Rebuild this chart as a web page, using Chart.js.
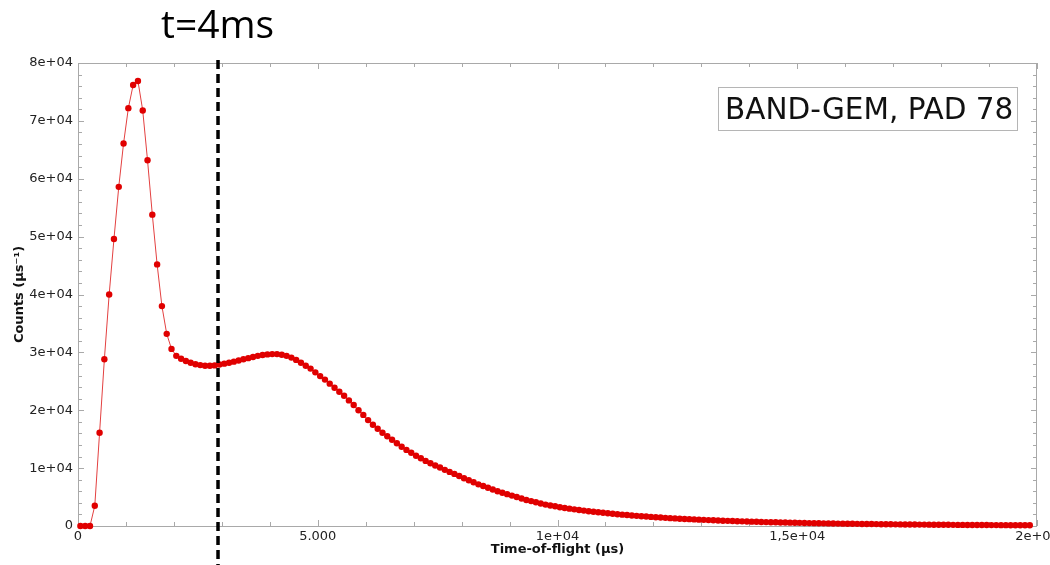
<!DOCTYPE html>
<html>
<head>
<meta charset="utf-8">
<script src="https://cdn.jsdelivr.net/npm/chart.js@4.4.1/dist/chart.umd.min.js"></script>
<style>
  html, body { margin: 0; padding: 0; background: #ffffff; }
  canvas { display: block; }
</style>
</head>
<body>
<canvas id="tof" width="1050" height="565"></canvas>
<script>
// Time-of-flight histogram, 100 µs bins (first bin centre at 50 µs)
const binStart = 50;
const binWidth = 100;
const counts = [
  0, 0, 0, 3500, 16100, 28800, 40000, 49600, 58600, 66100,
  72200, 76200, 76900, 71800, 63200, 53800, 45200, 38000, 33200, 30600,
  29400, 28900, 28500, 28200, 27950, 27800, 27700, 27700, 27750, 27900,
  28050, 28200, 28400, 28600, 28800, 29000, 29200, 29400, 29550, 29650,
  29700, 29700, 29600, 29400, 29100, 28700, 28200, 27700, 27200, 26550,
  25900, 25300, 24600, 23900, 23200, 22500, 21700, 20900, 20000, 19200,
  18300, 17500, 16800, 16100, 15500, 14900, 14300, 13700, 13150, 12650,
  12150, 11700, 11250, 10850, 10450, 10100, 9700, 9350, 9000, 8650,
  8250, 7900, 7550, 7200, 6900, 6600, 6300, 6000, 5750, 5500,
  5250, 5000, 4750, 4500, 4300, 4100, 3900, 3700, 3550, 3400,
  3250, 3120, 3000, 2880, 2770, 2660, 2560, 2460, 2370, 2280,
  2200, 2120, 2040, 1960, 1890, 1820, 1750, 1690, 1630, 1570,
  1510, 1460, 1410, 1360, 1310, 1260, 1220, 1180, 1140, 1100,
  1060, 1020, 990, 955, 920, 890, 860, 830, 800, 775,
  750, 725, 700, 675, 655, 635, 615, 595, 575, 555,
  540, 520, 505, 490, 475, 460, 445, 430, 418, 405,
  392, 380, 368, 357, 346, 335, 325, 315, 305, 296,
  287, 278, 270, 262, 254, 246, 239, 232, 225, 218,
  212, 206, 200, 194, 188, 183, 178, 173, 168, 163,
  158, 154, 150, 146, 142, 138, 134, 130, 126
];

const xTickValues = [0, 5000, 10000, 15000, 20000];
const xTickLabels = ['0', '5.000', '1e+04', '1,5e+04', '2e+04'];
const yTickValues = [0, 10000, 20000, 30000, 40000, 50000, 60000, 70000, 80000];
const yTickLabels = ['0', '1e+04', '2e+04', '3e+04', '4e+04', '5e+04', '6e+04', '7e+04', '8e+04'];
const xMinorStep = 1000;
const yMinorStep = 2000;

const markerTime = 2920;          // µs, dashed marker position
const markerLabel = 't=4ms';
const boxLabel = 'BAND-GEM, PAD 78';

const points = counts.map((c, i) => ({ x: binStart + i * binWidth, y: c }));

const FRAME = '#a9a9a9';
const TICK_FONT = { family: 'DejaVu Sans', size: 13 };

// Frame on all four sides with inward major/minor ticks
const framePlugin = {
  id: 'frame',
  beforeDatasetsDraw(chart) {
    const { ctx, chartArea: a, scales: { x, y } } = chart;
    ctx.save();
    ctx.strokeStyle = FRAME;
    ctx.lineWidth = 1;
    ctx.beginPath();
    ctx.rect(a.left + 0.5, a.top + 0.5, a.right - a.left - 1, a.bottom - a.top);
    ctx.stroke();
    ctx.beginPath();
    for (let v = x.min; v <= x.max; v += xMinorStep) {
      const px = Math.round(x.getPixelForValue(v)) + 0.5;
      const len = (v % 5000 === 0) ? 6 : 4;
      ctx.moveTo(px, a.bottom); ctx.lineTo(px, a.bottom - len);
      ctx.moveTo(px, a.top); ctx.lineTo(px, a.top + len);
    }
    for (let v = y.min; v <= y.max; v += yMinorStep) {
      const py = Math.round(y.getPixelForValue(v)) + 0.5;
      const len = (v % 10000 === 0) ? 6 : 4;
      ctx.moveTo(a.left, py); ctx.lineTo(a.left + len, py);
      ctx.moveTo(a.right, py); ctx.lineTo(a.right - len, py);
    }
    ctx.stroke();
    ctx.restore();
  }
};

// Dashed time marker, its caption and the detector label box
const annotatePlugin = {
  id: 'annotate',
  afterDraw(chart) {
    const { ctx, scales: { x } } = chart;
    const px = x.getPixelForValue(markerTime);
    ctx.save();
    ctx.strokeStyle = '#000000';
    ctx.lineWidth = 3.5;
    ctx.setLineDash([9, 5]);
    ctx.beginPath();
    ctx.moveTo(px, 60);
    ctx.lineTo(px, 565);
    ctx.stroke();
    ctx.setLineDash([]);

    ctx.fillStyle = '#000000';
    ctx.font = '39px "Open Sans"';
    ctx.textBaseline = 'alphabetic';
    ctx.textAlign = 'left';
    ctx.fillText(markerLabel, 161, 38);

    ctx.strokeStyle = '#b5b5b5';
    ctx.lineWidth = 1;
    ctx.strokeRect(718.5, 87.5, 299, 43);
    ctx.font = '29.5px "DejaVu Sans"';
    ctx.fillStyle = '#111111';
    ctx.fillText(boxLabel, 725, 119);
    ctx.restore();
  }
};

new Chart(document.getElementById('tof'), {
  type: 'line',
  data: {
    datasets: [{
      data: points,
      borderColor: '#e34040',
      borderWidth: 1,
      backgroundColor: '#e00000',
      pointBackgroundColor: '#e00000',
      pointBorderColor: '#e00000',
      pointBorderWidth: 0,
      pointRadius: 3.2,
      tension: 0,
      clip: false
    }]
  },
  options: {
    responsive: false,
    animation: false,
    events: [],
    layout: { padding: { top: 63, right: 13, left: 0, bottom: 0 } },
    plugins: { legend: { display: false }, tooltip: { enabled: false } },
    scales: {
      x: {
        type: 'linear',
        min: 0,
        max: 20000,
        afterFit(scale) {
          scale.height = 39;
          scale.paddingLeft = 0;
          scale.paddingRight = 0;
        },
        afterBuildTicks(scale) { scale.ticks = xTickValues.map(v => ({ value: v })); },
        grid: { display: false, drawTicks: false },
        border: { display: false },
        ticks: {
          font: TICK_FONT,
          color: '#222222',
          padding: 3,
          maxRotation: 0,
          autoSkip: false,
          callback: (v) => xTickLabels[xTickValues.indexOf(v)]
        },
        title: {
          display: true,
          text: 'Time-of-flight (µs)',
          font: { family: 'DejaVu Sans', size: 13, weight: 'bold' },
          color: '#111111',
          padding: { top: 0, bottom: 8 }
        }
      },
      y: {
        type: 'linear',
        min: 0,
        max: 80000,
        afterFit(scale) {
          scale.width = 78;
          scale.paddingTop = 0;
          scale.paddingBottom = 0;
        },
        afterBuildTicks(scale) { scale.ticks = yTickValues.map(v => ({ value: v })); },
        grid: { display: false, drawTicks: false },
        border: { display: false },
        ticks: {
          font: TICK_FONT,
          color: '#222222',
          padding: 5,
          autoSkip: false,
          callback: (v) => yTickLabels[yTickValues.indexOf(v)]
        },
        title: {
          display: true,
          text: 'Counts (µs⁻¹)',
          font: { family: 'DejaVu Sans', size: 13, weight: 'bold' },
          color: '#111111',
          padding: { top: 12, bottom: 0 }
        }
      }
    }
  },
  plugins: [framePlugin, annotatePlugin]
});
</script>
</body>
</html>
